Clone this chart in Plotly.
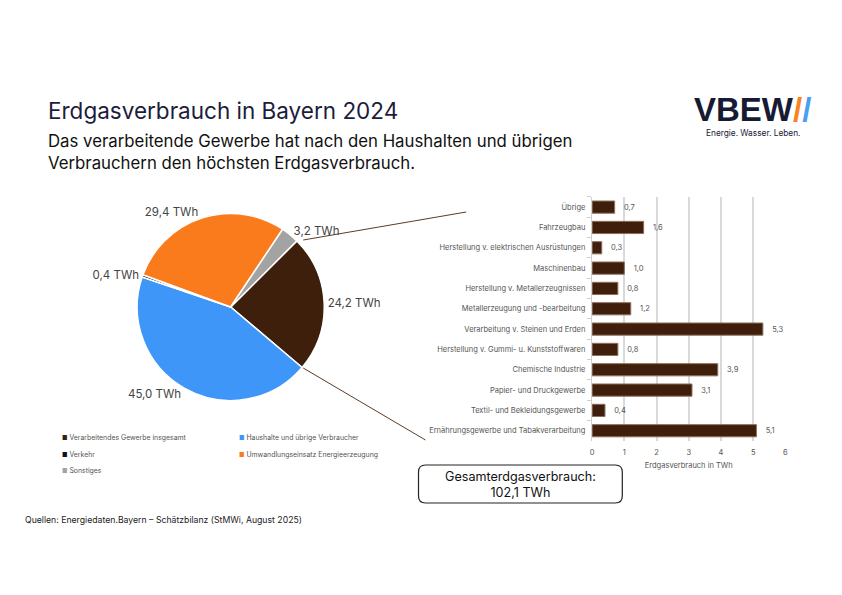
import plotly.graph_objects as go

# Kreisdiagramm: Erdgasverbrauch nach Sektoren (TWh)
sektoren = [
    "Verarbeitendes Gewerbe insgesamt",
    "Haushalte und übrige Verbraucher",
    "Verkehr",
    "Umwandlungseinsatz Energieerzeugung",
    "Sonstiges",
]
sektor_werte = [24.2, 45.0, 0.4, 29.4, 3.2]
sektor_farben = ["#3e1f0b", "#3e97f8", "#111111", "#fa7b1c", "#a3a3a3"]

# Balkendiagramm: Aufteilung verarbeitendes Gewerbe (TWh)
branchen = [
    "Übrige",
    "Fahrzeugbau",
    "Herstellung v. elektrischen Ausrüstungen",
    "Maschinenbau",
    "Herstellung v. Metallerzeugnissen",
    "Metallerzeugung und -bearbeitung",
    "Verarbeitung v. Steinen und Erden",
    "Herstellung v. Gummi- u. Kunststoffwaren",
    "Chemische Industrie",
    "Papier- und Druckgewerbe",
    "Textil- und Bekleidungsgewerbe",
    "Ernährungsgewerbe und Tabakverarbeitung",
]
branchen_werte = [0.7, 1.6, 0.3, 1.0, 0.8, 1.2, 5.3, 0.8, 3.9, 3.1, 0.4, 5.1]

titel = "Erdgasverbrauch in Bayern 2024"
untertitel = ("Das verarbeitende Gewerbe hat nach den Haushalten und übrigen<br>"
              "Verbrauchern den höchsten Erdgasverbrauch.")
gesamt_text = "Gesamterdgasverbrauch:<br>102,1 TWh"
quelle = "Quellen: Energiedaten.Bayern – Schätzbilanz (StMWi, August 2025)"

FONT = "Inter"
GRAU = "#555555"
W, H = 842, 595


def px(x, y):
    # Pixel (von oben links) -> Papierkoordinaten
    return x / W, 1 - y / H


fig = go.Figure()

fig.add_trace(go.Pie(
    labels=sektoren,
    values=sektor_werte,
    sort=False,
    direction="clockwise",
    rotation=45,
    marker=dict(colors=sektor_farben, line=dict(color="white", width=1.5)),
    texttemplate="%{value:.1f} TWh",
    textposition="outside",
    textfont=dict(size=11.5, color="#444444", family=FONT),
    domain=dict(x=[0.1615, 0.385], y=[0.326, 0.642]),
    showlegend=False,
    hoverinfo="label+value",
))

fig.add_trace(go.Bar(
    y=branchen,
    x=branchen_werte,
    orientation="h",
    marker=dict(color="#3f1f0c", line=dict(color="#8d6f5c", width=1)),
    texttemplate="   %{x:.1f}",
    textposition="outside",
    textfont=dict(size=7.5, color=GRAU, family=FONT),
    cliponaxis=False,
    width=0.6,
    showlegend=False,
))

fig.update_layout(
    width=W, height=H,
    margin=dict(l=0, r=0, t=0, b=0),
    paper_bgcolor="white", plot_bgcolor="white",
    separators=",.",
    font=dict(family=FONT, color="#333333"),
    showlegend=False,
    xaxis=dict(
        domain=[0.705, 0.936], range=[0, 6], dtick=1,
        showgrid=True, gridcolor="#d9d9d9", gridwidth=1.5, zeroline=False,
        tickfont=dict(size=7.5, color=GRAU), ticklabelstandoff=6,
        title=dict(text="Erdgasverbrauch in TWh", font=dict(size=7.5, color=GRAU), standoff=6),
    ),
    yaxis=dict(
        domain=[0.259, 0.669], autorange="reversed",
        showline=True, linecolor="#d0d0d0", linewidth=1,
        ticks="outside", tickson="boundaries", ticklen=4, tickcolor="#d0d0d0",
        tickfont=dict(size=7.5, color=GRAU), ticksuffix="  ",
    ),
)

# Legende in zwei Spalten
leg_pos = [(58, 437), (236, 437), (58, 454), (236, 454), (58, 470)]
for name, farbe, (lx, ly) in zip(sektoren, sektor_farben, leg_pos):
    ax, ay = px(lx, ly)
    fig.add_annotation(
        text=f"<span style='color:{farbe};font-size:6px'>■</span> {name}",
        xref="paper", yref="paper", x=ax, y=ay, xanchor="left", yanchor="middle",
        showarrow=False, font=dict(size=6.9, color=GRAU, family=FONT))

# Verbindungslinien vom Kreis zum Balkendiagramm
for (x0, y0, x1, y1) in [(303, 240, 467, 212), (303, 368, 426, 440)]:
    a0, b0 = px(x0, y0)
    a1, b1 = px(x1, y1)
    fig.add_shape(type="line", xref="paper", yref="paper", x0=a0, y0=b0, x1=a1, y1=b1,
                  line=dict(color="#5c3d28", width=1))

# Kasten Gesamtverbrauch (abgerundet)
bx0, by1 = px(419, 465)
bx1, by0 = px(624, 503)
r = 7 / W
ry = 7 / H
fig.add_shape(
    type="path", xref="paper", yref="paper",
    path=(f"M {bx0 + r},{by0} L {bx1 - r},{by0} Q {bx1},{by0} {bx1},{by0 + ry} "
          f"L {bx1},{by1 - ry} Q {bx1},{by1} {bx1 - r},{by1} "
          f"L {bx0 + r},{by1} Q {bx0},{by1} {bx0},{by1 - ry} "
          f"L {bx0},{by0 + ry} Q {bx0},{by0} {bx0 + r},{by0} Z"),
    line=dict(color="#222222", width=1.2), fillcolor="white",
)
fig.add_annotation(text=gesamt_text, xref="paper", yref="paper",
                   x=(bx0 + bx1) / 2, y=(by0 + by1) / 2, xanchor="center", yanchor="middle",
                   showarrow=False, font=dict(size=12.6, color="#111111", family=FONT))

# Titel und Untertitel
tx, ty = px(44, 110)
fig.add_annotation(text=titel, xref="paper", yref="paper",
                   x=tx, y=ty, xanchor="left", yanchor="middle",
                   showarrow=False, font=dict(size=22.5, color="#1c1d3b", family=FONT))
ux, uy = px(44, 152)
fig.add_annotation(text=untertitel, xref="paper", yref="paper", x=ux, y=uy,
                   xanchor="left", yanchor="middle", align="left", showarrow=False,
                   font=dict(size=16.8, color="#111111", family=FONT))

# Logo
lx, ly = px(694, 109)
fig.add_annotation(
    text="<b>VBEW</b><b><span style='color:#f7841f'>/</span><span style='color:#4b9ff0'>/</span></b>",
    xref="paper", yref="paper", x=lx, y=ly, xanchor="left", yanchor="middle",
    showarrow=False, font=dict(size=33, color="#161a33", family="Liberation Sans"))
ex, ey = px(706, 133)
fig.add_annotation(text="Energie. Wasser. Leben.", xref="paper", yref="paper",
                   x=ex, y=ey, xanchor="left", yanchor="middle",
                   showarrow=False, font=dict(size=8.3, color="#161a33", family=FONT))

# Quelle
qx, qy = px(21, 520)
fig.add_annotation(text=quelle, xref="paper", yref="paper", x=qx, y=qy,
                   xanchor="left", yanchor="middle", showarrow=False,
                   font=dict(size=8.7, color="#222222", family=FONT))

fig.write_html("out.html", config={"displayModeBar": False},
               post_script="document.body.style.margin='0';")
